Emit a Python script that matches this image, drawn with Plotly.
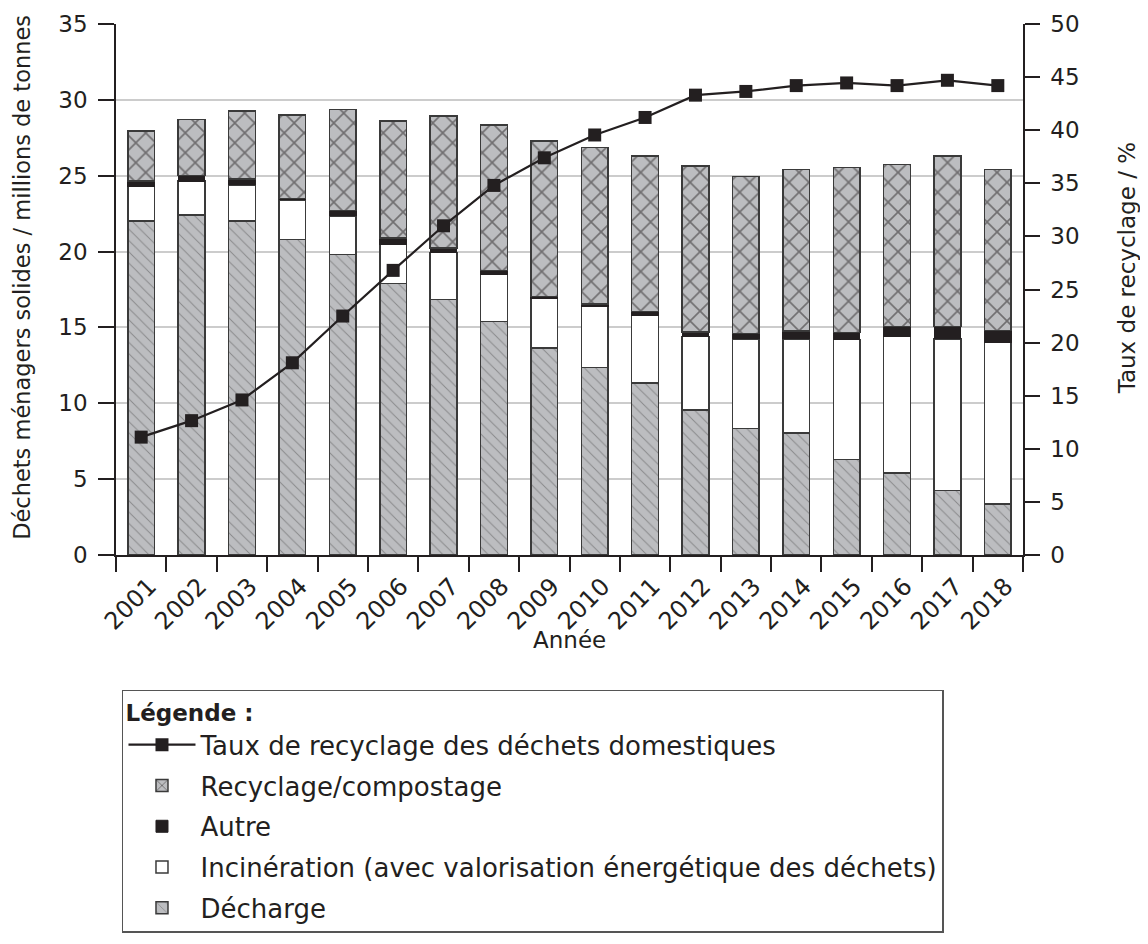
import plotly.graph_objects as go

years = ["2001", "2002", "2003", "2004", "2005", "2006", "2007", "2008", "2009",
         "2010", "2011", "2012", "2013", "2014", "2015", "2016", "2017", "2018"]
landfill = [22.0, 22.4, 22.0, 20.8, 19.8, 17.9, 16.85, 15.4, 13.65, 12.35, 11.35,
            9.55, 8.35, 8.05, 6.3, 5.4, 4.25, 3.35]
incineration = [2.3, 2.25, 2.4, 2.6, 2.55, 2.55, 3.1, 3.1, 3.25, 4.05, 4.45,
                 4.85, 5.9, 6.2, 7.9, 9.0, 10.0, 10.65]
other = [0.35, 0.35, 0.4, 0.1, 0.35, 0.45, 0.3, 0.25, 0.15, 0.15, 0.25,
         0.3, 0.35, 0.5, 0.45, 0.65, 0.8, 0.8]
recycling = [3.3, 3.7, 4.45, 5.5, 6.65, 7.7, 8.7, 9.6, 10.25, 10.3, 10.25,
             10.95, 10.35, 10.65, 10.9, 10.7, 11.25, 10.6]
rate = [11.1, 12.65, 14.6, 18.1, 22.5, 26.8, 31.0, 34.8, 37.4, 39.55, 41.2,
        43.3, 43.65, 44.2, 44.45, 44.2, 44.7, 44.2]

DARK = "#231f20"
GREY = "#bcbdc0"
FONT = "DejaVu Sans"
outline = dict(color="#3a3a3a", width=1.5)

fig = go.Figure()
fig.add_trace(go.Bar(
    x=years, y=landfill, name="Décharge", legendrank=5, legendgroup="e",
    marker=dict(color=GREY, line=outline,
                pattern=dict(shape="\\", fgcolor="#555555", bgcolor=GREY,
                             size=8, solidity=0.12, fillmode="overlay")),
))
fig.add_trace(go.Bar(
    x=years, y=incineration, name="Incinération (avec valorisation énergétique des déchets)",
    legendrank=4, legendgroup="d", marker=dict(color="white", line=outline),
))
fig.add_trace(go.Bar(
    x=years, y=other, name="Autre", legendrank=3, legendgroup="c",
    marker=dict(color=DARK, line=dict(color=DARK, width=1)),
))
fig.add_trace(go.Bar(
    x=years, y=recycling, name="Recyclage/compostage", legendrank=2, legendgroup="b",
    marker=dict(color=GREY, line=outline,
                pattern=dict(shape="x", fgcolor=DARK, bgcolor=GREY,
                             size=14, solidity=0.22, fillmode="overlay")),
))
fig.add_trace(go.Scatter(
    x=years, y=rate, yaxis="y2", mode="lines+markers", legendrank=1, legendgroup="a",
    name="Taux de recyclage des déchets domestiques",
    line=dict(color=DARK, width=2.2),
    marker=dict(symbol="square", size=13, color=DARK),
))

axis_font = dict(family=FONT, size=23, color=DARK)
fig.update_layout(
    width=1140, height=936,
    margin=dict(l=108, r=125, t=16, b=389, autoexpand=False),
    paper_bgcolor="white", plot_bgcolor="white",
    barmode="stack", bargap=0.47,
    font=dict(family=FONT, size=23, color=DARK),
    xaxis=dict(
        type="category", range=[-0.5, 17.5], automargin=False,
        tickangle=-45, tickfont=dict(family=FONT, size=24, color=DARK),
        ticklabelshift=8, ticklabelstandoff=6,
        ticks="outside", tickson="boundaries", ticklen=15, tickwidth=1.5,
        tickcolor=DARK, showline=True, linecolor=DARK, linewidth=1.5,
        showgrid=False,
    ),
    yaxis=dict(
        range=[0, 35], dtick=5, tickfont=axis_font, automargin=False,
        ticks="outside", ticklen=16, tickwidth=1.5, tickcolor=DARK,
        ticklabelstandoff=6,
        showline=True, linecolor=DARK, linewidth=1.5,
        showgrid=True, gridcolor="#cccccc", gridwidth=1.5, zeroline=False,
    ),
    yaxis2=dict(
        overlaying="y", side="right", range=[0, 50], dtick=5, automargin=False,
        tickfont=axis_font, ticks="outside", ticklen=15, tickwidth=1.5,
        tickcolor=DARK, ticklabelstandoff=6,
        showline=True, linecolor=DARK, linewidth=1.5,
        showgrid=False, zeroline=False,
    ),
    legend=dict(
        x=0.0066, y=-0.254, xanchor="left", yanchor="top",
        bordercolor="#555555", borderwidth=1.5, bgcolor="white",
        font=dict(family=FONT, size=26, color=DARK),
        title=dict(text="<b>Légende :</b>", font=dict(family=FONT, size=23, color=DARK)),
        traceorder="grouped", itemwidth=67, tracegroupgap=4,
    ),
    annotations=[
        dict(text="Déchets ménagers solides / millions de tonnes",
             xref="paper", yref="paper", x=-0.1036, y=0.522,
             xanchor="center", yanchor="middle", textangle=-90,
             showarrow=False, font=dict(family=FONT, size=22.5, color=DARK)),
        dict(text="Taux de recyclage / %",
             xref="paper", yref="paper", x=1.1147, y=0.540,
             xanchor="center", yanchor="middle", textangle=-90,
             showarrow=False, font=axis_font),
        dict(text="Année",
             xref="paper", yref="paper", x=0.5, y=-0.160,
             xanchor="center", yanchor="middle",
             showarrow=False, font=axis_font),
    ],
)

fig.write_html("out.html")
